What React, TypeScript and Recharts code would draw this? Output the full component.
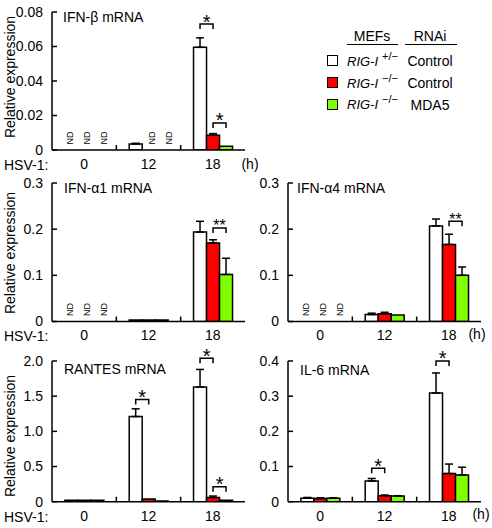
import React from "react";
import { Bar, BarChart, ErrorBar, LabelList, XAxis, YAxis } from "recharts";

const FONT = '"Liberation Sans", Arial, Helvetica, sans-serif';
const WHITE = "#ffffff";
const RED = "#ff0000";
const GREEN = "#80ff00";

type Bracket = { at: number; pair: "wr" | "rg"; level: number; mark: string };

const hours = ["0", "12", "18"];

// IFN-beta mRNA
const ifnbHet = [0, 0.0035, 0.0595];
const ifnbKo = [0, 0, 0.0085];
const ifnbMda = [0, 0, 0.0022];
const ifnbHetErr = [0, 0.0004, 0.0055];
const ifnbKoErr = [0, 0, 0.001];
const ifnbMdaErr = [0, 0, 0];
const ifnbNdHet = [true, false, false];
const ifnbNdKo = [true, true, false];
const ifnbNdMda = [true, true, false];
const ifnbTicks = [0, 0.02, 0.04, 0.06, 0.08];
const ifnbTickLabels = ["0", "0.02", "0.04", "0.06", "0.08"];
const ifnbStars: Bracket[] = [
  { at: 2, pair: "wr", level: 0.073, mark: "*" },
  { at: 2, pair: "rg", level: 0.0157, mark: "*" },
];

// IFN-alpha1 mRNA
const ifna1Het = [0, 0.003, 0.194];
const ifna1Ko = [0, 0.003, 0.17];
const ifna1Mda = [0, 0.003, 0.102];
const ifna1HetErr = [0, 0, 0.023];
const ifna1KoErr = [0, 0, 0.007];
const ifna1MdaErr = [0, 0, 0.035];
const ifna1Nd = [true, false, false];
const ifna1Stars: Bracket[] = [{ at: 2, pair: "rg", level: 0.2026, mark: "**" }];

// IFN-alpha4 mRNA
const ifna4Het = [0, 0.015, 0.207];
const ifna4Ko = [0, 0.017, 0.167];
const ifna4Mda = [0, 0.014, 0.1];
const ifna4HetErr = [0, 0.003, 0.015];
const ifna4KoErr = [0, 0.003, 0.022];
const ifna4MdaErr = [0, 0, 0.018];
const ifna4Nd = [true, false, false];
const ifna4Stars: Bracket[] = [{ at: 2, pair: "rg", level: 0.217, mark: "**" }];

const ifnaTicks = [0, 0.1, 0.2, 0.3];
const ifnaTickLabels = ["0", "0.1", "0.2", "0.3"];

// RANTES mRNA
const rantesHet = [0.02, 1.21, 1.63];
const rantesKo = [0.02, 0.04, 0.06];
const rantesMda = [0.02, 0.01, 0.02];
const rantesHetErr = [0, 0.11, 0.25];
const rantesKoErr = [0, 0, 0.02];
const rantesMdaErr = [0, 0, 0];
const rantesTicks = [0, 0.5, 1, 1.5, 2];
const rantesTickLabels = ["0", "0.5", "1.0", "1.5", "2.0"];
const rantesStars: Bracket[] = [
  { at: 1, pair: "wr", level: 1.453, mark: "*" },
  { at: 2, pair: "wr", level: 2.04, mark: "*" },
  { at: 2, pair: "rg", level: 0.214, mark: "*" },
];

// IL-6 mRNA
const il6Het = [0.01, 0.059, 0.309];
const il6Ko = [0.009, 0.017, 0.08];
const il6Mda = [0.01, 0.016, 0.076];
const il6HetErr = [0.002, 0.007, 0.057];
const il6KoErr = [0.002, 0.002, 0.027];
const il6MdaErr = [0.001, 0.001, 0.022];
const il6Ticks = [0, 0.1, 0.2, 0.3, 0.4];
const il6TickLabels = ["0", "0.1", "0.2", "0.3", "0.4"];
const il6Stars: Bracket[] = [
  { at: 1, pair: "wr", level: 0.095, mark: "*" },
  { at: 2, pair: "wr", level: 0.4, mark: "*" },
];

const noNd = [false, false, false];
const TICK_GAP = 9;

type PanelProps = {
  left: number;
  top: number;
  plotH: number;
  values: number[][];
  errors: number[][];
  nd?: boolean[][];
  yMax: number;
  ticks: number[];
  tickLabels: string[];
  stars: Bracket[];
};

// significance brackets drawn from a bar (white->red or red->green)
function brackets(series: number, values: number[][], stars: Bracket[]) {
  const pair = series === 0 ? "wr" : "rg";
  return (props: any) => {
    const vb = props.viewBox || props;
    const x = Number(vb.x);
    const y = Number(vb.y);
    const w = Number(vb.width);
    const h = Number(vb.height);
    const i = Number(props.value);
    const v = values[series][i];
    const base = h >= 0 ? y + h : y;
    const list = stars.filter((s) => s.at === i && s.pair === pair);
    if (!v || list.length === 0) return null;
    return (
      <g>
        {list.map((s, k) => {
          const ly = base - (s.level * Math.abs(h)) / v;
          const x1 = x + w / 2;
          const x2 = x + w * 1.5;
          const dbl = s.mark.length > 1;
          return (
            <g key={k}>
              <path
                d={`M${x1},${ly + 5}V${ly}H${x2}V${ly + 5}`}
                fill="none"
                stroke="#000"
                strokeWidth={1.5}
              />
              <text
                x={(x1 + x2) / 2}
                y={ly + (dbl ? 3.5 : 4.5)}
                textAnchor="middle"
                fontSize={dbl ? 16 : 20}
                fontFamily={FONT}
                fill="#000"
              >
                {s.mark}
              </text>
            </g>
          );
        })}
      </g>
    );
  };
}

// hour label, the group separator tick and the "ND" tags of undetected samples
function hourTick(nd: boolean[][]) {
  return (props: any) => {
    const { x, y, payload } = props;
    const i = Number(payload.index);
    const band = payload.offset ? payload.offset * 2 : 64.3;
    const bw = (band * 0.8) / 3;
    const base = y - TICK_GAP;
    const sepX = x + band / 2;
    return (
      <g>
        <text
          x={x}
          y={y}
          dy="0.71em"
          textAnchor="middle"
          fontSize={14}
          fontFamily={FONT}
          fill="#000"
        >
          {payload.value}
        </text>
        {i < hours.length - 1 && (
          <line x1={sepX} x2={sepX} y1={base} y2={base - 5} stroke="#000" strokeWidth={1.5} />
        )}
        {nd.map((f, s) => {
          if (!f[i]) return null;
          const cx = x + (s - 1) * bw + 3;
          const cy = base - 12;
          return (
            <text
              key={s}
              x={cx}
              y={cy}
              transform={`rotate(-90 ${cx} ${cy})`}
              textAnchor="middle"
              dominantBaseline="central"
              fontSize={9}
              fontFamily={FONT}
              fill="#000"
            >
              ND
            </text>
          );
        })}
      </g>
    );
  };
}

function Panel({ left, top, plotH, values, errors, nd, yMax, ticks, tickLabels, stars }: PanelProps) {
  const flags = nd || [noNd, noNd, noNd];
  const data = hours.map((h, i) => ({
    hour: h,
    idx: i,
    het: values[0][i],
    ko: values[1][i],
    mda: values[2][i],
    hetErr: errors[0][i] > 0 ? [0, errors[0][i]] : null,
    koErr: errors[1][i] > 0 ? [0, errors[1][i]] : null,
    mdaErr: errors[2][i] > 0 ? [0, errors[2][i]] : null,
  }));
  const keys = ["het", "ko", "mda"];
  const fills = [WHITE, RED, GREEN];

  return (
    <div style={{ position: "absolute", left, top }}>
      <BarChart
        width={246}
        height={plotH + 45}
        data={data}
        margin={{ top: 20, right: 8, bottom: 24, left: 0 }}
        barCategoryGap="20%"
        barGap={0}
      >
        <XAxis
          dataKey="hour"
          height={1}
          interval={0}
          tickLine={false}
          tickSize={0}
          tickMargin={TICK_GAP}
          axisLine={{ stroke: "#000", strokeWidth: 1.5 }}
          tick={hourTick(flags)}
        />
        <YAxis
          width={45}
          domain={[0, yMax]}
          ticks={ticks}
          allowDataOverflow
          interval={0}
          tickSize={-5}
          tickMargin={14}
          tickFormatter={(_v: number, i: number) => tickLabels[i]}
          axisLine={{ stroke: "#000", strokeWidth: 1.5 }}
          tickLine={{ stroke: "#000", strokeWidth: 1.5 }}
          tick={{ fontSize: 14, fill: "#000", fontFamily: FONT }}
        />
        {keys.map((k, s) => (
          <Bar
            key={k}
            dataKey={k}
            fill={fills[s]}
            stroke="#000"
            strokeWidth={1.5}
            isAnimationActive={false}
          >
            <ErrorBar
              dataKey={`${k}Err`}
              width={4}
              stroke="#000"
              strokeWidth={1.5}
              isAnimationActive={false}
            />
            {s < 2 && <LabelList dataKey="idx" content={brackets(s, values, stars)} />}
          </Bar>
        ))}
      </BarChart>
    </div>
  );
}

function Txt({
  x,
  y,
  children,
  size = 14,
  align = "left",
  italic = false,
}: {
  x: number;
  y: number;
  children: React.ReactNode;
  size?: number;
  align?: "left" | "center";
  italic?: boolean;
}) {
  return (
    <div
      style={{
        position: "absolute",
        left: x,
        top: y - size / 2,
        fontSize: size,
        lineHeight: `${size}px`,
        whiteSpace: "nowrap",
        fontStyle: italic ? "italic" : "normal",
        transform: align === "center" ? "translateX(-50%)" : undefined,
      }}
    >
      {children}
    </div>
  );
}

function VTxt({ x, y, children }: { x: number; y: number; children: React.ReactNode }) {
  return (
    <div
      style={{
        position: "absolute",
        left: x,
        top: y,
        fontSize: 14,
        lineHeight: "14px",
        whiteSpace: "nowrap",
        transform: "translate(-50%, -50%) rotate(-90deg)",
      }}
    >
      {children}
    </div>
  );
}

function Legend() {
  const rows = [
    { fill: WHITE, sup: "+/\u2212", rnai: "Control", y: 61 },
    { fill: RED, sup: "\u2212/\u2212", rnai: "Control", y: 83 },
    { fill: GREEN, sup: "\u2212/\u2212", rnai: "MDA5", y: 104.5 },
  ];
  return (
    <>
      <Txt x={372} y={36} align="center">MEFs</Txt>
      <Txt x={430} y={36} align="center">RNAi</Txt>
      <div style={{ position: "absolute", left: 347, top: 43.5, width: 51, height: 1.5, background: "#000" }} />
      <div style={{ position: "absolute", left: 405, top: 43.5, width: 52, height: 1.5, background: "#000" }} />
      {rows.map((r) => (
        <React.Fragment key={r.y}>
          <div
            style={{
              position: "absolute",
              left: 327,
              top: r.y - 6,
              width: 9,
              height: 9,
              background: r.fill,
              border: "1.5px solid #000",
            }}
          />
          <Txt x={347} y={r.y} size={13} italic>
            RIG-I
          </Txt>
          <Txt x={382} y={r.y - 5} size={11}>
            {r.sup}
          </Txt>
          <Txt x={430} y={r.y} align="center">
            {r.rnai}
          </Txt>
        </React.Fragment>
      ))}
    </>
  );
}

export default function App() {
  return (
    <div
      style={{
        position: "absolute",
        left: 0,
        top: 0,
        width: 492,
        height: 528,
        background: "#fff",
        color: "#000",
        fontFamily: FONT,
        overflow: "hidden",
      }}
    >
      <Panel
        left={7}
        top={-8}
        plotH={138}
        values={[ifnbHet, ifnbKo, ifnbMda]}
        errors={[ifnbHetErr, ifnbKoErr, ifnbMdaErr]}
        nd={[ifnbNdHet, ifnbNdKo, ifnbNdMda]}
        yMax={0.08}
        ticks={ifnbTicks}
        tickLabels={ifnbTickLabels}
        stars={ifnbStars}
      />
      <Panel
        left={7}
        top={163}
        plotH={138.5}
        values={[ifna1Het, ifna1Ko, ifna1Mda]}
        errors={[ifna1HetErr, ifna1KoErr, ifna1MdaErr]}
        nd={[ifna1Nd, ifna1Nd, ifna1Nd]}
        yMax={0.3}
        ticks={ifnaTicks}
        tickLabels={ifnaTickLabels}
        stars={ifna1Stars}
      />
      <Panel
        left={243}
        top={163}
        plotH={138.5}
        values={[ifna4Het, ifna4Ko, ifna4Mda]}
        errors={[ifna4HetErr, ifna4KoErr, ifna4MdaErr]}
        nd={[ifna4Nd, ifna4Nd, ifna4Nd]}
        yMax={0.3}
        ticks={ifnaTicks}
        tickLabels={ifnaTickLabels}
        stars={ifna4Stars}
      />
      <Panel
        left={7}
        top={341}
        plotH={140.7}
        values={[rantesHet, rantesKo, rantesMda]}
        errors={[rantesHetErr, rantesKoErr, rantesMdaErr]}
        yMax={2}
        ticks={rantesTicks}
        tickLabels={rantesTickLabels}
        stars={rantesStars}
      />
      <Panel
        left={243}
        top={341}
        plotH={140.7}
        values={[il6Het, il6Ko, il6Mda]}
        errors={[il6HetErr, il6KoErr, il6MdaErr]}
        yMax={0.4}
        ticks={il6Ticks}
        tickLabels={il6TickLabels}
        stars={il6Stars}
      />

      <Txt x={63} y={17}>IFN-β mRNA</Txt>
      <Txt x={64} y={187.5}>IFN-α1 mRNA</Txt>
      <Txt x={297} y={187.5}>IFN-α4 mRNA</Txt>
      <Txt x={64} y={369}>RANTES mRNA</Txt>
      <Txt x={300} y={370}>IL-6 mRNA</Txt>

      <VTxt x={10} y={77}>Relative expression</VTxt>
      <VTxt x={10} y={253}>Relative expression</VTxt>
      <VTxt x={10} y={436}>Relative expression</VTxt>

      <Txt x={4} y={164.5}>HSV-1:</Txt>
      <Txt x={4} y={336}>HSV-1:</Txt>
      <Txt x={4} y={517}>HSV-1:</Txt>

      <Txt x={250} y={164} align="center">(h)</Txt>
      <Txt x={477} y={334} align="center">(h)</Txt>
      <Txt x={481} y={514} align="center">(h)</Txt>

      <Legend />
    </div>
  );
}
